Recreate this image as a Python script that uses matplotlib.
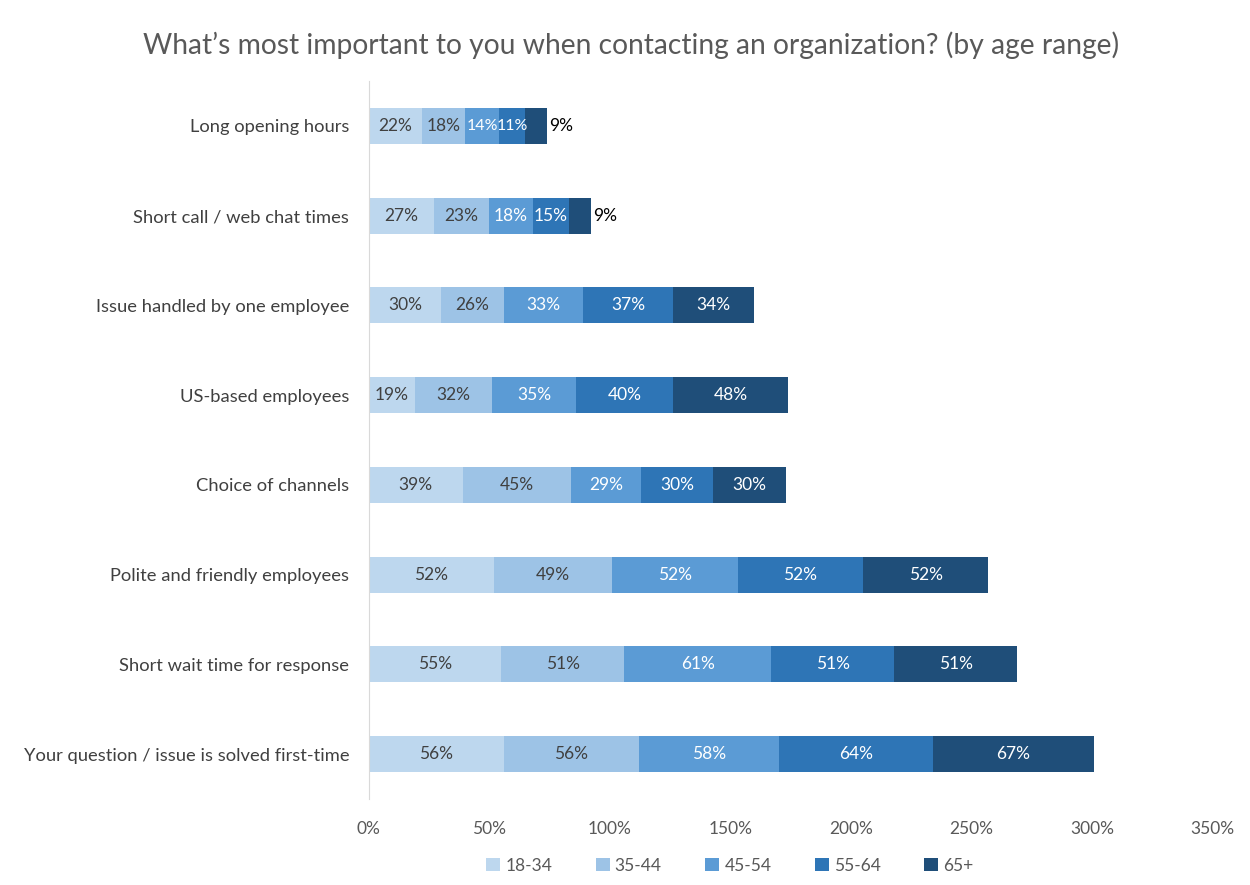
import numpy as np
import matplotlib.pyplot as plt

plt.rcParams['font.family'] = ['Lato', 'DejaVu Sans']

categories = ['Long opening hours',
              'Short call / web chat times',
              'Issue handled by one employee',
              'US-based employees',
              'Choice of channels',
              'Polite and friendly employees',
              'Short wait time for response',
              'Your question / issue is solved first-time']
ages = ['18-34', '35-44', '45-54', '55-64', '65+']
v_18_34 = [22, 27, 30, 19, 39, 52, 55, 56]
v_35_44 = [18, 23, 26, 32, 45, 49, 51, 56]
v_45_54 = [14, 18, 33, 35, 29, 52, 61, 58]
v_55_64 = [11, 15, 37, 40, 30, 52, 51, 64]
v_65 = [9, 9, 34, 48, 30, 52, 51, 67]
series = [v_18_34, v_35_44, v_45_54, v_55_64, v_65]

colors = ['#BDD7EE', '#9DC3E6', '#5B9BD5', '#2E75B6', '#1F4E79']
label_colors = ['#404040', '#404040', 'white', 'white', 'white']

fig = plt.figure(figsize=(12.5, 8.85), dpi=100)
ax = fig.add_axes([0.295, 0.0972, 0.675, 0.8113])

y = np.arange(len(categories))
left = np.zeros(len(categories))
for vals, col, lc, name in zip(series, colors, label_colors, ages):
    w = np.array(vals) / 100.0
    ax.barh(y, w, left=left, height=0.4, color=col, label=name, edgecolor='none')
    for yi, l, wi, v in zip(y, left, w, vals):
        if v < 10 and name == '65+':
            # too narrow: label sits just past the bar end
            ax.text(l + wi + 0.01, yi, f'{v}%', ha='left', va='center', fontsize=12.5, color='black')
        else:
            fs = 11.5 if v < 15 else 12.5
            ax.text(l + wi / 2, yi, f'{v}%', ha='center', va='center', fontsize=fs, color=lc)
    left += w

ax.set_ylim(len(categories) - 0.5, -0.5)
ax.set_xlim(0, 3.5)
ax.set_yticks(y)
ax.set_yticklabels(categories, fontsize=13.2, color='#404040')
ax.set_xticks(np.arange(0, 3.51, 0.5))
ax.set_xticklabels([f'{int(t * 100)}%' for t in np.arange(0, 3.51, 0.5)], fontsize=12.5, color='#595959')
ax.tick_params(axis='both', length=0)
ax.tick_params(axis='y', pad=14)
ax.tick_params(axis='x', pad=16)
for s in ['top', 'right', 'bottom']:
    ax.spines[s].set_visible(False)
ax.spines['left'].set_color('#D9D9D9')

fig.suptitle("What\u2019s most important to you when contacting an organization? (by age range)",
             x=0.505, y=0.965, fontsize=20.3, color='#595959')

ax.legend(loc='upper center', bbox_to_anchor=(0.428, -0.06), ncol=5, frameon=False,
          fontsize=12.5, handlelength=0.8, handleheight=0.8, columnspacing=2.5,
          handletextpad=0.3, labelcolor='#595959')

fig.savefig('out.png', dpi=100)
